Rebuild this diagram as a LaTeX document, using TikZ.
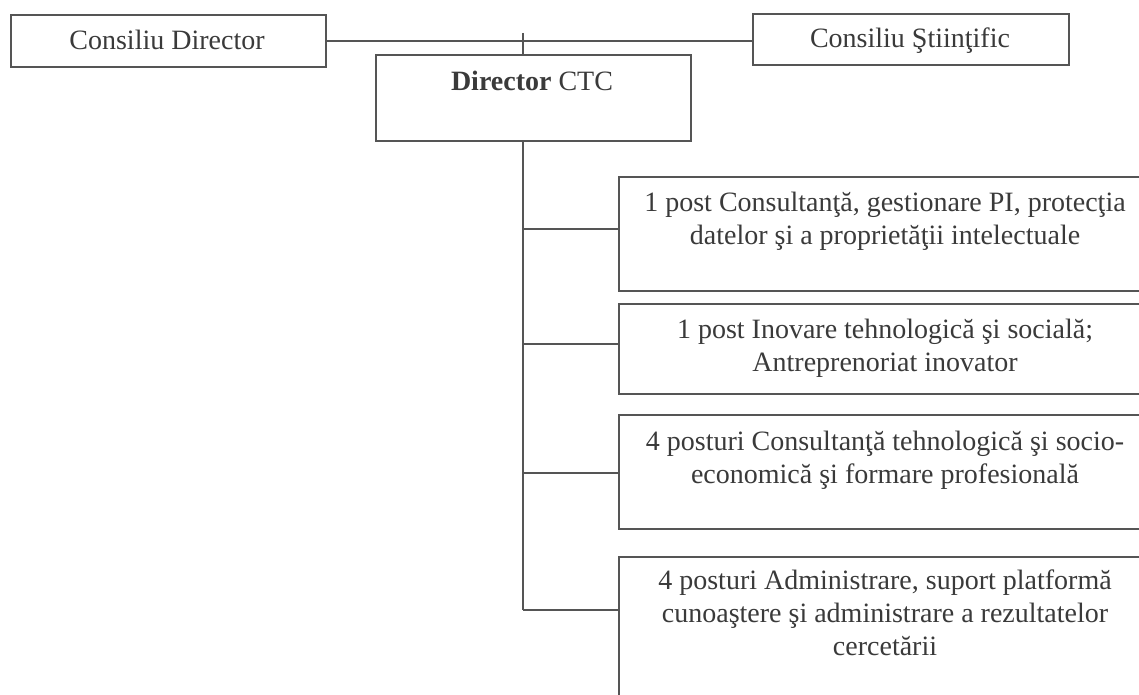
\documentclass[tikz,border=0pt]{standalone}
\usepackage{fontspec}
\setmainfont{Liberation Serif}
\definecolor{ln}{HTML}{555555}
\definecolor{tx}{HTML}{3A3A3A}
\begin{document}
\begin{tikzpicture}[x=0.5pt,y=-0.5pt,
  box/.style={draw=ln, line width=1pt, inner sep=0pt, anchor=north west},
  lbl/.style={text=tx, font=\fontsize{14}{16.5}\selectfont, align=center, inner sep=0pt},
  conn/.style={draw=ln, line width=1pt}]
\useasboundingbox (0,0) rectangle (1139,695);
\fill[white] (0,0) rectangle (1139,695);
\clip (0,0) rectangle (1139,695);
% boxes
\node[box, minimum width=157.5pt, minimum height=26pt] (cd) at (10,14) {};
\node[box, minimum width=158pt, minimum height=25.5pt] (cs) at (752,13) {};
\node[box, minimum width=157.5pt, minimum height=43pt] (ctc) at (375,54) {};
\node[box, minimum width=267pt, minimum height=57pt] (b1) at (618,176) {};
\node[box, minimum width=267pt, minimum height=45pt] (b2) at (618,303) {};
\node[box, minimum width=267pt, minimum height=57pt] (b3) at (618,414) {};
\node[box, minimum width=267pt, minimum height=85pt] (b4) at (618,556) {};
% labels
\node[lbl, anchor=base] (cdt) at (167,50) {Consiliu Director};
\node[lbl, anchor=base] (cst) at (910,48) {Consiliu Ştiinţific};
\node[lbl, anchor=base] (ctct) at (532,91) {\textbf{Director} CTC};
\node[lbl, anchor=north] (b1t) at (885,192) {1 post Consultanţă, gestionare PI, protecţia\\datelor şi a proprietăţii intelectuale};
\node[lbl, anchor=north] (b2t) at (885,319) {1 post Inovare tehnologică şi socială;\\Antreprenoriat inovator};
\node[lbl, anchor=north] (b3t) at (885,431) {4 posturi Consultanţă tehnologică şi socio-\\economică şi formare profesională};
\node[lbl, anchor=north] (b4t) at (885,569) {4 posturi Administrare, suport platformă\\cunoaştere şi administrare a rezultatelor\\cercetării};
% connectors
\coordinate (hl) at (0,41.5);
\coordinate (tk) at (523,33);
\coordinate (j1) at (523,229);
\coordinate (j2) at (523,344);
\coordinate (j3) at (523,473);
\coordinate (j4) at (523,610);
\draw[conn] (cd.east |- hl) -- (cs.west |- hl);
\draw[conn] (tk) -- (tk |- ctc.north);
\draw[conn] (tk |- ctc.south) -- (j4);
\draw[conn] (j1) -- (j1 -| b1.west);
\draw[conn] (j2) -- (j2 -| b2.west);
\draw[conn] (j3) -- (j3 -| b3.west);
\draw[conn] (j4) -- (j4 -| b4.west);
\end{tikzpicture}
\end{document}
